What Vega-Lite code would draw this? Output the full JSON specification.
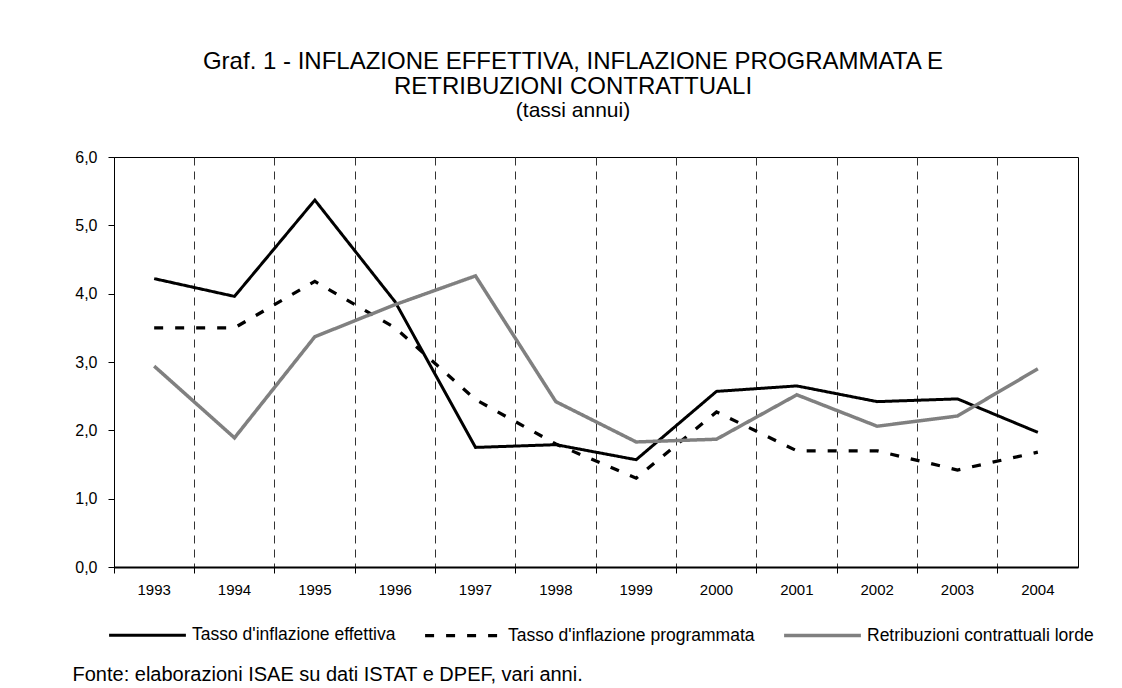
{
  "$schema": "https://vega.github.io/schema/vega-lite/v6.json",
  "width": 964,
  "height": 410,
  "autosize": {"type": "none"},
  "padding": {"left": 114, "top": 157, "right": 44, "bottom": 121},
  "background": "white",
  "title": {
    "text": ["Graf. 1 - INFLAZIONE EFFETTIVA, INFLAZIONE PROGRAMMATA E", "RETRIBUZIONI CONTRATTUALI"],
    "subtitle": "(tassi annui)",
    "anchor": "middle",
    "dx": -23,
    "offset": 28,
    "font": "Liberation Sans",
    "fontSize": 24,
    "fontWeight": "normal",
    "lineHeight": 25,
    "color": "#000000",
    "subtitleFont": "Liberation Sans",
    "subtitleFontSize": 21,
    "subtitleColor": "#000000",
    "subtitlePadding": 1
  },
  "data": {
    "values": [
      {"anno": "1993", "serie": "Tasso d'inflazione effettiva", "valore": 4.22},
      {"anno": "1994", "serie": "Tasso d'inflazione effettiva", "valore": 3.96},
      {"anno": "1995", "serie": "Tasso d'inflazione effettiva", "valore": 5.37},
      {"anno": "1996", "serie": "Tasso d'inflazione effettiva", "valore": 3.88},
      {"anno": "1997", "serie": "Tasso d'inflazione effettiva", "valore": 1.75},
      {"anno": "1998", "serie": "Tasso d'inflazione effettiva", "valore": 1.79},
      {"anno": "1999", "serie": "Tasso d'inflazione effettiva", "valore": 1.57},
      {"anno": "2000", "serie": "Tasso d'inflazione effettiva", "valore": 2.57},
      {"anno": "2001", "serie": "Tasso d'inflazione effettiva", "valore": 2.65},
      {"anno": "2002", "serie": "Tasso d'inflazione effettiva", "valore": 2.42},
      {"anno": "2003", "serie": "Tasso d'inflazione effettiva", "valore": 2.46},
      {"anno": "2004", "serie": "Tasso d'inflazione effettiva", "valore": 1.97},
      {"anno": "1993", "serie": "Tasso d'inflazione programmata", "valore": 3.5},
      {"anno": "1994", "serie": "Tasso d'inflazione programmata", "valore": 3.5},
      {"anno": "1995", "serie": "Tasso d'inflazione programmata", "valore": 4.18},
      {"anno": "1996", "serie": "Tasso d'inflazione programmata", "valore": 3.5},
      {"anno": "1997", "serie": "Tasso d'inflazione programmata", "valore": 2.45},
      {"anno": "1998", "serie": "Tasso d'inflazione programmata", "valore": 1.8},
      {"anno": "1999", "serie": "Tasso d'inflazione programmata", "valore": 1.3},
      {"anno": "2000", "serie": "Tasso d'inflazione programmata", "valore": 2.27},
      {"anno": "2001", "serie": "Tasso d'inflazione programmata", "valore": 1.7},
      {"anno": "2002", "serie": "Tasso d'inflazione programmata", "valore": 1.7},
      {"anno": "2003", "serie": "Tasso d'inflazione programmata", "valore": 1.42},
      {"anno": "2004", "serie": "Tasso d'inflazione programmata", "valore": 1.68},
      {"anno": "1993", "serie": "Retribuzioni contrattuali lorde", "valore": 2.94},
      {"anno": "1994", "serie": "Retribuzioni contrattuali lorde", "valore": 1.89},
      {"anno": "1995", "serie": "Retribuzioni contrattuali lorde", "valore": 3.37},
      {"anno": "1996", "serie": "Retribuzioni contrattuali lorde", "valore": 3.84},
      {"anno": "1997", "serie": "Retribuzioni contrattuali lorde", "valore": 4.26},
      {"anno": "1998", "serie": "Retribuzioni contrattuali lorde", "valore": 2.42},
      {"anno": "1999", "serie": "Retribuzioni contrattuali lorde", "valore": 1.83},
      {"anno": "2000", "serie": "Retribuzioni contrattuali lorde", "valore": 1.87},
      {"anno": "2001", "serie": "Retribuzioni contrattuali lorde", "valore": 2.52},
      {"anno": "2002", "serie": "Retribuzioni contrattuali lorde", "valore": 2.06},
      {"anno": "2003", "serie": "Retribuzioni contrattuali lorde", "valore": 2.21},
      {"anno": "2004", "serie": "Retribuzioni contrattuali lorde", "valore": 2.9}
    ]
  },
  "mark": {"type": "line", "strokeJoin": "miter"},
  "encoding": {
    "x": {
      "field": "anno",
      "type": "ordinal",
      "bandPosition": 0.5,
      "scale": {"type": "band", "paddingInner": 0, "paddingOuter": 0},
      "axis": {
        "bandPosition": 0,
        "labelOffset": 0,
        "labelAngle": 0,
        "labelAlign": "center",
        "labelFont": "Liberation Sans",
        "labelFontSize": 15,
        "labelColor": "#000000",
        "labelPadding": 9,
        "grid": true,
        "gridDash": [8, 6],
        "gridColor": "#333333",
        "gridWidth": 1,
        "ticks": true,
        "tickSize": 6,
        "tickColor": "#000000",
        "domainColor": "#000000",
        "domainWidth": 2,
        "title": "Fonte: elaborazioni ISAE su dati ISTAT e DPEF, vari anni.",
        "titleFont": "Liberation Sans",
        "titleFontSize": 20,
        "titleFontWeight": "normal",
        "titleColor": "#000000",
        "titleAnchor": "start",
        "titleAlign": "left",
        "titleBaseline": "alphabetic",
        "titleX": -42,
        "titleY": 113
      }
    },
    "y": {
      "field": "valore",
      "type": "quantitative",
      "scale": {"domain": [0, 6], "nice": false, "zero": true},
      "axis": {
        "values": [0, 1, 2, 3, 4, 5, 6],
        "labelExpr": "replace(format(datum.value, '.1f'), '.', ',')",
        "grid": false,
        "title": null,
        "labelFont": "Liberation Sans",
        "labelFontSize": 16,
        "labelColor": "#000000",
        "labelPadding": 11,
        "tickSize": 6,
        "tickColor": "#000000",
        "domainColor": "#000000",
        "domainWidth": 1
      }
    },
    "color": {
      "field": "serie",
      "type": "nominal",
      "scale": {
        "domain": ["Tasso d'inflazione effettiva", "Tasso d'inflazione programmata", "Retribuzioni contrattuali lorde"],
        "range": ["#000000", "#000000", "#808080"]
      },
      "legend": {
        "title": null,
        "orient": "none",
        "legendX": -7,
        "legendY": 438,
        "direction": "horizontal",
        "columns": 3,
        "symbolType": "stroke",
        "symbolSize": 5900,
        "labelFont": "Liberation Sans",
        "labelFontSize": 17.5,
        "labelColor": "#000000",
        "labelOffset": 4,
        "columnPadding": 22,
        "labelLimit": 400
      }
    },
    "strokeDash": {
      "field": "serie",
      "type": "nominal",
      "scale": {
        "domain": ["Tasso d'inflazione effettiva", "Tasso d'inflazione programmata", "Retribuzioni contrattuali lorde"],
        "range": [[1, 0], [9, 12], [1, 0]]
      }
    },
    "strokeWidth": {
      "field": "serie",
      "type": "nominal",
      "scale": {
        "domain": ["Tasso d'inflazione effettiva", "Tasso d'inflazione programmata", "Retribuzioni contrattuali lorde"],
        "range": [3, 3.5, 3.5]
      }
    }
  },
  "config": {
    "view": {"stroke": "#000000", "strokeWidth": 1}
  }
}
